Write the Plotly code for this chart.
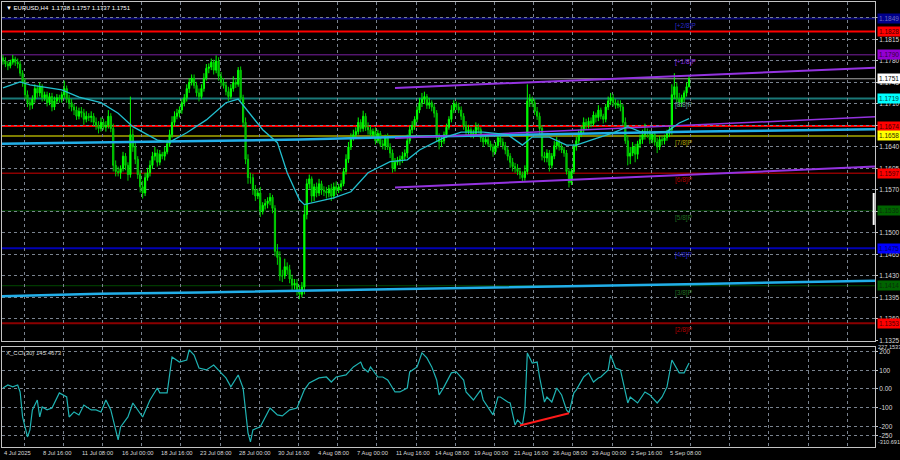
import plotly.graph_objects as go

# ---------------- data ----------------
date_labels = ["4 Jul 2025", "8 Jul 16:00", "11 Jul 08:00", "16 Jul 00:00", "18 Jul 16:00",
               "23 Jul 08:00", "28 Jul 00:00", "30 Jul 16:00", "4 Aug 08:00", "7 Aug 00:00",
               "11 Aug 16:00", "14 Aug 08:00", "19 Aug 00:00", "21 Aug 16:00", "26 Aug 08:00",
               "29 Aug 00:00", "2 Sep 16:00", "5 Sep 08:00"]
date_label_bars = [0, 16, 32, 48, 64, 80, 96, 112, 128, 144, 160, 176, 192, 208, 224, 240, 256, 272]

closes = [
    1.1780, 1.1775, 1.1772, 1.1778, 1.1783, 1.1778,
    1.1775, 1.1760, 1.1745, 1.1725, 1.1712, 1.1708,
    1.1718, 1.1735, 1.1728, 1.1738, 1.1720, 1.1725,
    1.1712, 1.1722, 1.1705, 1.1715, 1.1720, 1.1718,
    1.1725, 1.1735, 1.1718, 1.1712, 1.1705, 1.1700,
    1.1690, 1.1698, 1.1695, 1.1685, 1.1690, 1.1688,
    1.1690, 1.1680, 1.1675, 1.1670, 1.1680, 1.1672,
    1.1675, 1.1690, 1.1670, 1.1610, 1.1600, 1.1598,
    1.1605, 1.1625, 1.1610, 1.1595, 1.1660, 1.1640,
    1.1620, 1.1595, 1.1575, 1.1565, 1.1590, 1.1598,
    1.1610, 1.1625, 1.1630, 1.1615, 1.1628, 1.1625,
    1.1632, 1.1645, 1.1660, 1.1680, 1.1690, 1.1695,
    1.1700, 1.1712, 1.1720, 1.1735, 1.1745, 1.1752,
    1.1740, 1.1728, 1.1722, 1.1735, 1.1752, 1.1768,
    1.1770, 1.1778, 1.1765, 1.1780, 1.1755, 1.1745,
    1.1740, 1.1730, 1.1722, 1.1735, 1.1745, 1.1742,
    1.1765, 1.1720, 1.1680, 1.1620, 1.1590, 1.1590,
    1.1570, 1.1560, 1.1565, 1.1535, 1.1545, 1.1548,
    1.1552, 1.1558, 1.1540, 1.1470, 1.1460, 1.1430,
    1.1430, 1.1445, 1.1440, 1.1425, 1.1415, 1.1418,
    1.1408, 1.1400, 1.1412, 1.1530, 1.1580, 1.1588,
    1.1560, 1.1575, 1.1565, 1.1580, 1.1570, 1.1568,
    1.1565, 1.1572, 1.1560, 1.1575, 1.1570, 1.1575,
    1.1580, 1.1600, 1.1620, 1.1640, 1.1655, 1.1660,
    1.1665, 1.1680, 1.1670, 1.1690, 1.1672, 1.1668,
    1.1660, 1.1665, 1.1650, 1.1662, 1.1645, 1.1642,
    1.1655, 1.1640, 1.1630, 1.1605, 1.1615, 1.1618,
    1.1620, 1.1625, 1.1630, 1.1650, 1.1668, 1.1675,
    1.1685, 1.1700, 1.1712, 1.1718, 1.1722, 1.1708,
    1.1712, 1.1705, 1.1695, 1.1655, 1.1648, 1.1650,
    1.1660, 1.1672, 1.1685, 1.1700, 1.1710, 1.1705,
    1.1700, 1.1690, 1.1675, 1.1665, 1.1668, 1.1660,
    1.1662, 1.1672, 1.1668, 1.1655, 1.1648, 1.1652,
    1.1645, 1.1640, 1.1632, 1.1642, 1.1655, 1.1648,
    1.1642, 1.1635, 1.1625, 1.1615, 1.1608, 1.1605,
    1.1600, 1.1595, 1.1590, 1.1600, 1.1715, 1.1718,
    1.1712, 1.1698, 1.1690, 1.1670, 1.1625, 1.1622,
    1.1630, 1.1610, 1.1625, 1.1642, 1.1648, 1.1640,
    1.1635, 1.1630, 1.1600, 1.1582, 1.1600, 1.1640,
    1.1650, 1.1662, 1.1668, 1.1680, 1.1675, 1.1682,
    1.1678, 1.1692, 1.1688, 1.1700, 1.1690, 1.1685,
    1.1705, 1.1715, 1.1720, 1.1712, 1.1708, 1.1710,
    1.1705, 1.1680, 1.1650, 1.1625, 1.1630, 1.1640,
    1.1628, 1.1645, 1.1652, 1.1660, 1.1665, 1.1662,
    1.1652, 1.1660, 1.1648, 1.1640, 1.1652, 1.1650,
    1.1655, 1.1662, 1.1668, 1.1725, 1.1738, 1.1718,
    1.1712, 1.1720, 1.1728, 1.1738, 1.1751,
]
highs = [
    1.1790, 1.1786, 1.1780, 1.1782, 1.1790, 1.1787,
    1.1784, 1.1780, 1.1765, 1.1752, 1.1732, 1.1718,
    1.1724, 1.1742, 1.1740, 1.1745, 1.1742, 1.1730,
    1.1730, 1.1728, 1.1728, 1.1722, 1.1726, 1.1725,
    1.1730, 1.1748, 1.1740, 1.1725, 1.1718, 1.1710,
    1.1706, 1.1704, 1.1705, 1.1702, 1.1698, 1.1695,
    1.1698, 1.1695, 1.1688, 1.1682, 1.1688, 1.1686,
    1.1682, 1.1700, 1.1695, 1.1678, 1.1618, 1.1608,
    1.1610, 1.1632, 1.1630, 1.1615, 1.1722, 1.1670,
    1.1648, 1.1625, 1.1602, 1.1585, 1.1598, 1.1606,
    1.1618, 1.1632, 1.1640, 1.1636, 1.1635, 1.1632,
    1.1640, 1.1652, 1.1668, 1.1690, 1.1698, 1.1702,
    1.1706, 1.1718, 1.1726, 1.1742, 1.1752, 1.1758,
    1.1758, 1.1746, 1.1735, 1.1742, 1.1760, 1.1775,
    1.1776, 1.1784, 1.1782, 1.1789, 1.1786, 1.1762,
    1.1752, 1.1746, 1.1738, 1.1742, 1.1755, 1.1750,
    1.1770, 1.1771, 1.1725, 1.1688, 1.1628, 1.1598,
    1.1596, 1.1578, 1.1572, 1.1575, 1.1550, 1.1555,
    1.1558, 1.1565, 1.1562, 1.1545, 1.1482, 1.1470,
    1.1440, 1.1458, 1.1452, 1.1448, 1.1432, 1.1425,
    1.1425, 1.1415, 1.1420, 1.1545, 1.1588, 1.1595,
    1.1592, 1.1580, 1.1582, 1.1588, 1.1585, 1.1576,
    1.1575, 1.1578, 1.1580, 1.1582, 1.1584, 1.1580,
    1.1586, 1.1606, 1.1628, 1.1648, 1.1662, 1.1668,
    1.1672, 1.1688, 1.1685, 1.1699, 1.1695, 1.1680,
    1.1674, 1.1670, 1.1672, 1.1668, 1.1666, 1.1652,
    1.1660, 1.1662, 1.1646, 1.1636, 1.1622, 1.1624,
    1.1626, 1.1632, 1.1636, 1.1660, 1.1675, 1.1682,
    1.1690, 1.1706, 1.1720, 1.1728, 1.1730, 1.1726,
    1.1720, 1.1716, 1.1710, 1.1700, 1.1662, 1.1656,
    1.1665, 1.1678, 1.1690, 1.1708, 1.1716, 1.1714,
    1.1712, 1.1706, 1.1695, 1.1682, 1.1676, 1.1672,
    1.1668, 1.1680, 1.1678, 1.1672, 1.1660, 1.1658,
    1.1656, 1.1650, 1.1645, 1.1648, 1.1662, 1.1660,
    1.1654, 1.1648, 1.1640, 1.1630, 1.1622, 1.1614,
    1.1612, 1.1606, 1.1600, 1.1610, 1.1742, 1.1726,
    1.1722, 1.1718, 1.1705, 1.1696, 1.1675, 1.1632,
    1.1636, 1.1635, 1.1630, 1.1650, 1.1656, 1.1652,
    1.1646, 1.1640, 1.1635, 1.1605, 1.1605, 1.1645,
    1.1656, 1.1668, 1.1674, 1.1688, 1.1686, 1.1688,
    1.1688, 1.1698, 1.1696, 1.1708, 1.1704, 1.1694,
    1.1710, 1.1722, 1.1728, 1.1726, 1.1718, 1.1716,
    1.1716, 1.1710, 1.1688, 1.1658, 1.1640, 1.1648,
    1.1645, 1.1650, 1.1660, 1.1668, 1.1678, 1.1670,
    1.1668, 1.1665, 1.1666, 1.1655, 1.1658, 1.1658,
    1.1660, 1.1668, 1.1675, 1.1742, 1.1760, 1.1745,
    1.1728, 1.1725, 1.1732, 1.1745, 1.1757,
]
lows = [
    1.1774, 1.1770, 1.1765, 1.1768, 1.1774, 1.1772,
    1.1768, 1.1755, 1.1738, 1.1718, 1.1705, 1.1700,
    1.1702, 1.1712, 1.1720, 1.1722, 1.1714, 1.1715,
    1.1706, 1.1708, 1.1698, 1.1700, 1.1710, 1.1712,
    1.1712, 1.1720, 1.1712, 1.1702, 1.1698, 1.1692,
    1.1684, 1.1685, 1.1688, 1.1676, 1.1680, 1.1682,
    1.1680, 1.1674, 1.1668, 1.1662, 1.1665, 1.1668,
    1.1665, 1.1670, 1.1664, 1.1600, 1.1592, 1.1592,
    1.1588, 1.1600, 1.1602, 1.1585, 1.1590, 1.1632,
    1.1612, 1.1588, 1.1566, 1.1556, 1.1560, 1.1585,
    1.1592, 1.1604, 1.1618, 1.1608, 1.1610, 1.1620,
    1.1618, 1.1628, 1.1640, 1.1655, 1.1674, 1.1685,
    1.1688, 1.1694, 1.1706, 1.1714, 1.1728, 1.1740,
    1.1735, 1.1722, 1.1714, 1.1718, 1.1730, 1.1748,
    1.1760, 1.1765, 1.1758, 1.1760, 1.1748, 1.1738,
    1.1735, 1.1724, 1.1715, 1.1718, 1.1730, 1.1736,
    1.1738, 1.1715, 1.1672, 1.1612, 1.1580, 1.1580,
    1.1562, 1.1552, 1.1555, 1.1526, 1.1530, 1.1538,
    1.1540, 1.1545, 1.1532, 1.1462, 1.1448, 1.1422,
    1.1420, 1.1425, 1.1432, 1.1418, 1.1405, 1.1408,
    1.1398, 1.1392, 1.1395, 1.1400, 1.1522, 1.1572,
    1.1550, 1.1552, 1.1558, 1.1560, 1.1562, 1.1560,
    1.1556, 1.1558, 1.1552, 1.1555, 1.1562, 1.1565,
    1.1568, 1.1576, 1.1595, 1.1614, 1.1635, 1.1650,
    1.1654, 1.1660, 1.1664, 1.1665, 1.1666, 1.1660,
    1.1655, 1.1655, 1.1644, 1.1646, 1.1640, 1.1636,
    1.1635, 1.1635, 1.1622, 1.1598, 1.1600, 1.1610,
    1.1610, 1.1614, 1.1618, 1.1622, 1.1645, 1.1662,
    1.1668, 1.1680, 1.1695, 1.1705, 1.1710, 1.1702,
    1.1702, 1.1698, 1.1688, 1.1648, 1.1636, 1.1640,
    1.1645, 1.1655, 1.1668, 1.1680, 1.1695, 1.1700,
    1.1695, 1.1684, 1.1668, 1.1658, 1.1660, 1.1655,
    1.1654, 1.1658, 1.1662, 1.1648, 1.1640, 1.1644,
    1.1640, 1.1634, 1.1624, 1.1628, 1.1638, 1.1642,
    1.1636, 1.1628, 1.1618, 1.1606, 1.1600, 1.1598,
    1.1594, 1.1588, 1.1583, 1.1585, 1.1595, 1.1705,
    1.1705, 1.1692, 1.1684, 1.1660, 1.1618, 1.1615,
    1.1615, 1.1600, 1.1605, 1.1620, 1.1636, 1.1634,
    1.1630, 1.1624, 1.1595, 1.1574, 1.1578, 1.1596,
    1.1634, 1.1645, 1.1656, 1.1662, 1.1668, 1.1670,
    1.1672, 1.1674, 1.1680, 1.1682, 1.1685, 1.1678,
    1.1680, 1.1700, 1.1708, 1.1706, 1.1702, 1.1703,
    1.1698, 1.1675, 1.1645, 1.1610, 1.1612, 1.1625,
    1.1615, 1.1620, 1.1638, 1.1645, 1.1652, 1.1655,
    1.1645, 1.1646, 1.1642, 1.1630, 1.1635, 1.1643,
    1.1644, 1.1650, 1.1656, 1.1660, 1.1718, 1.1712,
    1.1706, 1.1705, 1.1712, 1.1722, 1.1737,
]
first_open = 1.1785
opens = [first_open] + closes[:-1]   # each H4 bar opens at the previous close

# fast moving average (thin cyan), read at points along the line
ma_bars = [0, 7, 11, 16, 24, 31, 40, 47, 53, 63, 68, 75, 83, 91, 96, 106, 112, 116, 121, 123,
           135, 142, 149, 158, 165, 170, 180, 187, 196, 206, 212, 216, 223, 230, 234, 240, 243,
           249, 255, 260, 265, 271, 276, 280]
ma_vals = [1.1736, 1.1746, 1.1741, 1.1738, 1.1733, 1.1721, 1.1712, 1.1695, 1.1673, 1.1651, 1.1648,
           1.1663, 1.1684, 1.1712, 1.1718, 1.1668, 1.1647, 1.1598, 1.1554, 1.1546,
           1.1557, 1.1567, 1.1598, 1.1616, 1.1619, 1.1635, 1.1655, 1.1664, 1.1664, 1.1660, 1.1643,
           1.1656, 1.1656, 1.1643, 1.1643, 1.1651, 1.1655,
           1.1663, 1.1673, 1.1665, 1.1663, 1.1665, 1.1679, 1.1686]

# slow averages (thick light blue)
slow_bars = [-0.4, 39.6, 80.4, 121.2, 162, 243.7, 284.5, 355.9]
slow_upper = [1.1645, 1.1647, 1.1650, 1.1652, 1.1656, 1.1662, 1.1665, 1.1669]
slow_lower = [1.1397, 1.1401, 1.1403, 1.1406, 1.1409, 1.1414, 1.1417, 1.1422]

# regression channel (purple)
chan_bars = [160, 355.9]
chan_upper = [1.1736, 1.1769]
chan_mid = [1.1654, 1.1689]
chan_lower = [1.1574, 1.1608]

# horizontal levels
level_prices = [1.1849, 1.1828, 1.1790, 1.1751, 1.1719, 1.1674, 1.1658, 1.1597, 1.1536, 1.1475, 1.1414, 1.1353]
level_colors = ['#0a0a78', '#ff0000', '#7a1fa0', '#a8a8a8', '#1a7878', '#ff0000', '#a8a800', '#8b0000',
                '#004a00', '#0000b4', '#004a00', '#8b0000']
level_widths = [2, 2, 1, 1, 2, 2, 1.5, 1.5, 1, 2, 1, 2]
label_bg = ['#00008b', '#ff0000', '#9400d3', '#ffffff', '#00ffff', '#ff0000', '#ffff00', '#ff0000',
            '#006400', '#0000ff', '#006400', '#ff0000']
label_fg = ['#7070c0', '#400000', '#300040', '#000000', '#004040', '#400000', '#303000', '#500000',
            '#0a300a', '#000060', '#0a300a', '#500000']

murray_prices = [1.1849, 1.1790, 1.1719, 1.1658, 1.1597, 1.1536, 1.1475, 1.1414, 1.1353]
murray_texts = ['[+2/8]P', '[+1/8]P', '[8/8]P', '[7/8]P', '[6/8]P', '[5/8]P', '[4/8]P', '[3/8]P', '[2/8]P']
murray_colors = ['#2a2ac8', '#8a2be2', '#6a9a9a', '#b0a000', '#b00000', '#207020', '#2828d0', '#207020', '#b00000']

price_ticks = [1.1325, 1.1360, 1.1395, 1.1430, 1.1465, 1.1500, 1.1535, 1.1570, 1.1605, 1.1640,
               1.1675, 1.1710, 1.1745, 1.1780, 1.1815, 1.1850]

# CCI(30)
cci_bars = [0, 2, 4, 6, 7, 8, 10, 11, 12, 14, 15, 16, 18, 20, 23, 26, 27, 29, 31, 33, 36, 38, 40, 42, 44,
            47, 48, 51, 53, 56, 57, 60, 63, 64, 67, 69, 72, 75, 76, 78, 80, 83, 86, 89, 91, 93, 96, 98,
            100, 101, 102, 105, 109, 112, 114, 117, 120, 123, 125, 129, 132, 134, 136, 140, 143, 146,
            147, 149, 150, 153, 155, 157, 160, 162, 165, 166, 169, 171, 173, 175, 177, 178, 180, 183,
            185, 188, 189, 192, 193, 195, 196, 198, 200, 202, 203, 206, 207, 209, 210, 212, 213, 214,
            216, 218, 219, 221, 222, 224, 226, 228, 230, 231, 233, 234, 237, 239, 241, 243, 244, 247,
            248, 250, 252, 255, 256, 259, 262, 264, 267, 269, 271, 273, 276, 278, 280]
cci_vals = [5, 21, 11, 21, -16, -150, -257, -219, -112, -59, -150, -96, -112, -102, -21, -43, -150, -123,
            -139, -86, -112, -112, -123, -59, -112, -273, -203, -150, -75, -128, -150, -59, 5, -21, -21,
            171, 144, 155, 209, 182, 112, 102, 128, 86, 59, 11, 75, 5, -235, -283, -219, -203, -102,
            -139, -144, -112, -102, -5, 32, 59, 64, 37, 64, 75, 118, 144, 112, 91, 118, 64, 64, 48, -16,
            -16, 5, 91, 118, 193, 166, 118, 48, -32, 11, 86, 91, 48, -16, -59, -43, -5, -59, -96, -139,
            -43, -43, -70, -75, -193, -166, -193, -112, 193, 139, 144, 64, -70, -43, -70, 5, -32, -112,
            -128, -21, -5, 64, 86, 37, 59, 64, 102, 182, 112, 102, -75, -43, -75, -16, -32, -75, -43,
            11, 155, 86, 86, 139]
cci_ticks = [200, 100, 0, -100, -200, -250]
cci_ticktext = ['200', '100', '0.00', '-100', '-200', '-250']
cci_max, cci_min = 227.1533, -310.6908
div_bars = [211, 231]
div_vals = [-196, -130]

# ---------------- figure ----------------
FONT = 'Liberation Sans'
GRID = '#7a838f'
FRAME = '#c4c4c4'
TXT = '#d8d8d8'
x_range = [-0.4, 355.9]
grid_bars = [8.6 + 16 * k for k in range(22)]

fig = go.Figure()

fig.add_trace(go.Candlestick(
    x=list(range(len(closes))), open=opens, high=highs, low=lows, close=closes,
    xaxis='x', yaxis='y', whiskerwidth=0, hoverinfo='skip', showlegend=False,
    increasing=dict(line=dict(color='#00ff00', width=1), fillcolor='#00ff00'),
    decreasing=dict(line=dict(color='#00d000', width=1), fillcolor='#00a000')))

for vals in (slow_upper, slow_lower):
    fig.add_trace(go.Scatter(x=slow_bars, y=vals, mode='lines', xaxis='x', yaxis='y',
                             line=dict(color='#22aee8', width=2.5), hoverinfo='skip', showlegend=False))
for vals, w in ((chan_upper, 2), (chan_mid, 1.5), (chan_lower, 2)):
    fig.add_trace(go.Scatter(x=chan_bars, y=vals, mode='lines', xaxis='x', yaxis='y',
                             line=dict(color='#9433e0', width=w), hoverinfo='skip', showlegend=False))
fig.add_trace(go.Scatter(x=ma_bars, y=ma_vals, mode='lines', xaxis='x', yaxis='y',
                         line=dict(color='#22c0d0', width=1.3), hoverinfo='skip', showlegend=False))

fig.add_trace(go.Scatter(x=cci_bars, y=cci_vals, mode='lines', xaxis='x2', yaxis='y2',
                         line=dict(color='#1fb3b3', width=1.2), hoverinfo='skip', showlegend=False))
fig.add_trace(go.Scatter(x=div_bars, y=div_vals, mode='lines', xaxis='x2', yaxis='y2',
                         line=dict(color='#ff1a1a', width=2), hoverinfo='skip', showlegend=False))

# horizontal levels
for p, c, w in zip(level_prices, level_colors, level_widths):
    fig.add_shape(type='line', xref='x domain', yref='y', x0=0, x1=1, y0=p, y1=p,
                  line=dict(color=c, width=w), layer='below')

# level price boxes on the right
for p, bg, fg in zip(level_prices, label_bg, label_fg):
    fig.add_annotation(xref='paper', x=1, xanchor='left', xshift=2, yref='y', y=p, yanchor='middle',
                       text=f'{p:.4f}', showarrow=False, bgcolor=bg, borderpad=1,
                       font=dict(family=FONT, size=6.5, color=fg))

# murray labels
for p, t, c in zip(murray_prices, murray_texts, murray_colors):
    fig.add_annotation(xref='x', x=273.5, xanchor='left', yref='y', y=p, yanchor='top', yshift=-1,
                       text=t, showarrow=False, font=dict(family=FONT, size=6.5, color=c))

# date labels
for b, t in zip(date_label_bars, date_labels):
    fig.add_annotation(xref='x2', x=b, xanchor='left', yref='paper', y=-0.003, yanchor='top',
                       text=t, showarrow=False, xshift=-1, font=dict(family=FONT, size=5.8, color=TXT))

# titles
fig.add_annotation(xref='paper', x=0, xanchor='left', xshift=2, yref='paper', y=1, yanchor='top', yshift=-1,
                   text=f'\u25bc EURUSD,H4  {opens[-1]:.4f} {highs[-1]:.4f} {lows[-1]:.4f} {closes[-1]:.4f}',
                   showarrow=False, font=dict(family=FONT, size=6, color='#ffffff'))
fig.add_annotation(xref='paper', x=0, xanchor='left', xshift=2, yref='y2 domain', y=1, yanchor='top', yshift=-1,
                   text='X_CCI(30) 145.4673', showarrow=False, font=dict(family=FONT, size=6, color=TXT))
fig.add_annotation(xref='paper', x=1, xanchor='left', xshift=1, yref='y2', y=cci_max, yanchor='middle',
                   text=f'{cci_max:.4f}', showarrow=False, font=dict(family=FONT, size=5.6, color=TXT))
fig.add_annotation(xref='paper', x=1, xanchor='left', xshift=1, yref='y2', y=cci_min, yanchor='bottom',
                   text=f'{cci_min:.3f}', showarrow=False, font=dict(family=FONT, size=5.6, color=TXT))

# white scroll marker at right edge
fig.add_shape(type='line', xref='x domain', x0=0.9985, x1=0.9985, yref='y', y0=1.1513, y1=1.1565,
              line=dict(color='#ffffff', width=2))

axis_common = dict(showgrid=True, gridcolor=GRID, griddash='3px,3px', gridwidth=1, zeroline=False,
                   showline=True, mirror=True, linecolor=FRAME, linewidth=1, automargin=False)

fig.update_layout(
    width=900, height=460, paper_bgcolor='#000000', plot_bgcolor='#000000',
    margin=dict(l=2, r=25, t=2, b=13, autoexpand=False), showlegend=False, hovermode=False,
    xaxis=dict(domain=[0, 1], range=x_range, anchor='y', tickvals=grid_bars, showticklabels=False,
               ticks='', rangeslider=dict(visible=False), **axis_common),
    yaxis=dict(domain=[0.2382, 1], range=[1.1324, 1.1876], anchor='x', side='right',
               tickvals=price_ticks, tickformat='.4f', ticks='outside', ticklen=2, tickcolor=FRAME,
               tickfont=dict(family=FONT, size=6.5, color=TXT), **axis_common),
    xaxis2=dict(domain=[0, 1], range=x_range, anchor='y2', tickvals=grid_bars, showticklabels=False,
                ticks='', **axis_common),
    yaxis2=dict(domain=[0, 0.2258], range=[cci_min, cci_max], anchor='x2', side='right',
                tickvals=cci_ticks, ticktext=cci_ticktext, ticks='outside', ticklen=2, tickcolor=FRAME,
                tickfont=dict(family=FONT, size=6.5, color=TXT), **axis_common),
)

fig.write_html('out.html', config={'displayModeBar': False},
               post_script="document.body.style.margin='0';document.body.style.padding='0';"
                           "document.body.style.overflow='hidden';document.body.style.background='#000';")
